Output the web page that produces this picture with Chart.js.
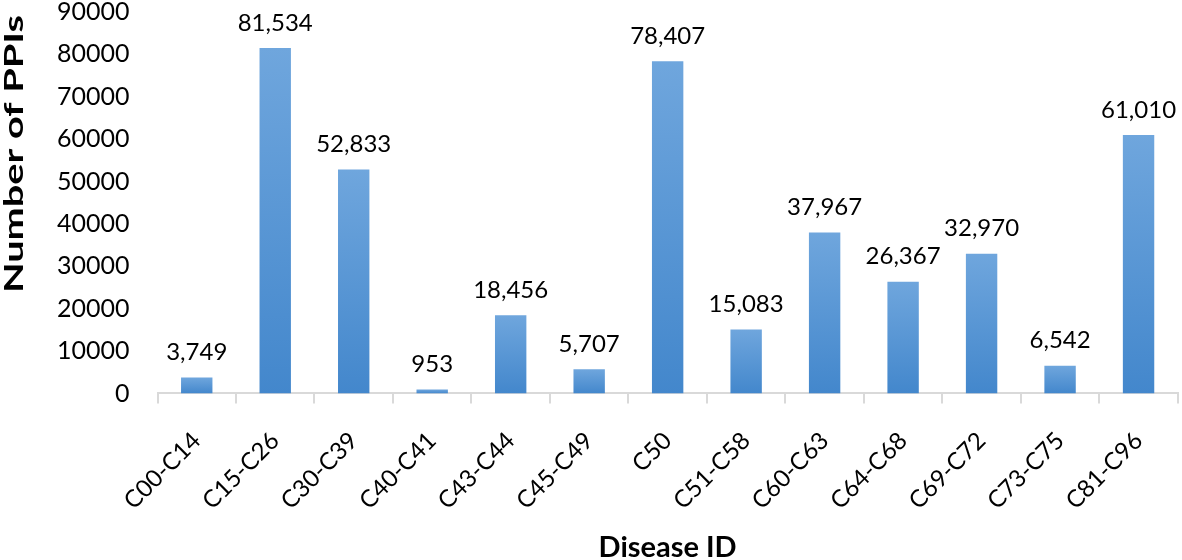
<!DOCTYPE html>
<html>
<head>
<meta charset="utf-8">
<script src="https://cdn.jsdelivr.net/npm/chart.js@4/dist/chart.umd.min.js"></script>
<style>
body { margin: 0; background: #fff; }
#wrap { width: 1182px; height: 560px; position: relative; }
</style>
</head>
<body>
<div id="wrap"><canvas id="ppiChart"></canvas></div>
<script>
// data
const diseaseIds = ['C00-C14', 'C15-C26', 'C30-C39', 'C40-C41', 'C43-C44', 'C45-C49', 'C50',
    'C51-C58', 'C60-C63', 'C64-C68', 'C69-C72', 'C73-C75', 'C81-C96'];
const ppiCounts = [3749, 81534, 52833, 953, 18456, 5707, 78407, 15083, 37967, 26367, 32970, 6542, 61010];
const yMax = 90000;
const yStep = 10000;
const yTitle = 'Number of PPIs';
const xTitle = 'Disease ID';

const fontName = 'Lato, "Open Sans", sans-serif';

// each bar gets its own light-to-dark vertical gradient, like the excel style
function barGradient(context) {
    const chart = context.chart;
    const yScale = chart.scales.y;
    if (!chart.chartArea || !yScale) return '#5b9bd5';
    const top = yScale.getPixelForValue(context.raw);
    const bottom = yScale.getPixelForValue(0);
    if (!isFinite(top) || !isFinite(bottom) || top === bottom) return '#5b9bd5';
    const g = chart.ctx.createLinearGradient(0, top, 0, bottom);
    g.addColorStop(0, '#6fa6dd');
    g.addColorStop(1, '#4387cc');
    return g;
}

// writes the value (with thousands comma) above each bar
const valueLabels = {
    id: 'valueLabels',
    afterDatasetsDraw(chart) {
        const ctx = chart.ctx;
        const meta = chart.getDatasetMeta(0);
        ctx.save();
        ctx.font = '24px ' + fontName;
        ctx.fillStyle = '#000';
        ctx.textAlign = 'center';
        ctx.textBaseline = 'bottom';
        meta.data.forEach(function(bar, i) {
            ctx.fillText(ppiCounts[i].toLocaleString('en-US'), bar.x, bar.y - 13);
        });
        ctx.restore();
    }
};

// the y title in the original is stretched along its length, so draw it by hand
const stretchedYTitle = {
    id: 'stretchedYTitle',
    afterDraw(chart) {
        const ctx = chart.ctx;
        ctx.save();
        ctx.font = 'bold 26px ' + fontName;
        ctx.fillStyle = '#000';
        const w = ctx.measureText(yTitle).width;
        const sx = 278 / w;
        ctx.translate(15, 15);
        ctx.rotate(-Math.PI / 2);
        ctx.scale(sx, 1);
        ctx.textAlign = 'right';
        ctx.textBaseline = 'middle';
        ctx.fillText(yTitle, 0, 0);
        ctx.restore();
    }
};

new Chart(document.getElementById('ppiChart'), {
    type: 'bar',
    data: {
        labels: diseaseIds,
        datasets: [{
            data: ppiCounts,
            backgroundColor: barGradient,
            borderWidth: 0,
            barPercentage: 0.4,
            categoryPercentage: 1
        }]
    },
    plugins: [valueLabels, stretchedYTitle],
    options: {
        responsive: true,
        maintainAspectRatio: false,
        animation: false,
        layout: { padding: { top: 12, right: 2, left: 37, bottom: 0 } },
        plugins: {
            legend: { display: false },
            tooltip: { enabled: false }
        },
        scales: {
            x: {
                grid: {
                    display: true,
                    drawOnChartArea: false,
                    drawTicks: true,
                    tickLength: 10,
                    color: '#d9d9d9',
                    lineWidth: 2,
                    offset: true
                },
                border: { display: true, color: '#d9d9d9', width: 2 },
                ticks: {
                    color: '#000',
                    font: { family: fontName, size: 24 },
                    minRotation: 45,
                    maxRotation: 45,
                    padding: 23
                },
                title: {
                    display: true,
                    text: xTitle,
                    color: '#000',
                    font: { family: fontName, size: 29, weight: 'bold' },
                    // rotated labels reserve more room than they use, pull the title in
                    padding: { top: -8, bottom: -5 }
                }
            },
            y: {
                min: 0,
                max: yMax,
                grid: { display: false },
                border: { display: false },
                ticks: {
                    stepSize: yStep,
                    color: '#000',
                    font: { family: fontName, size: 25 },
                    padding: 20,
                    callback: function(v) { return String(v); }
                },
                // tick padding also pads the top of the axis, drop that
                afterFit: function(scale) {
                    scale.paddingTop = 0;
                }
            }
        }
    }
});
</script>
</body>
</html>
